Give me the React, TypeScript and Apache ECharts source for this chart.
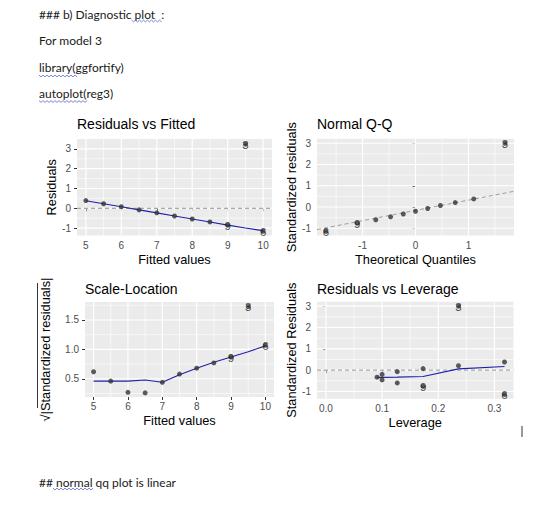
import React, { useEffect, useRef } from "react";
import * as echarts from "echarts";

// ---------------- data ----------------
const obsLabels = ["8", "11", "7", "10", "2", "4", "1", "5", "9", "3", "6"];
const labelledObs = ["3", "9", "6"];
const fittedValues = [5, 5.5, 6, 6.5, 7, 7.5, 8, 8.5, 9, 9.5, 10];
const residuals = [0.39, 0.23, 0.08, -0.08, -0.23, -0.39, -0.54, -0.69, -0.85, 3.24, -1.16];
const stdResiduals = [0.38, 0.21, 0.07, -0.07, -0.2, -0.33, -0.46, -0.6, -0.76, 3.0, -1.14];
const sqrtAbsStdResiduals = [0.62, 0.46, 0.27, 0.26, 0.44, 0.58, 0.68, 0.77, 0.87, 1.73, 1.07];
const leverage = [0.318, 0.236, 0.173, 0.127, 0.1, 0.091, 0.1, 0.127, 0.173, 0.236, 0.318];
const theoreticalQuantiles = [-1.69, -1.1, -0.75, -0.47, -0.23, 0, 0.23, 0.47, 0.75, 1.1, 1.69];

const fittedSmooth = [0.38, 0.23, 0.08, -0.08, -0.23, -0.39, -0.54, -0.69, -0.85, -1.0, -1.13];
const scaleSmooth = [0.46, 0.46, 0.46, 0.48, 0.44, 0.57, 0.68, 0.78, 0.87, 0.96, 1.06];
const leverageSmoothX = [0.091, 0.1, 0.127, 0.173, 0.236, 0.318];
const leverageSmoothY = [-0.34, -0.34, -0.33, -0.3, 0.06, 0.17];
const qqLineX = [-1.86, 1.86];
const qqLineY = [-1.06, 0.74];

const fittedTicks = [5, 6, 7, 8, 9, 10];
const fittedMinor = [5.5, 6.5, 7.5, 8.5, 9.5];
const residTicks = [-1, 0, 1, 2, 3];
const residMinor = [-0.5, 0.5, 1.5, 2.5];
const qqTicks = [-1, 0, 1];
const qqMinor = [-1.5, -0.5, 0.5, 1.5];
const scaleTicks = [0.5, 1.0, 1.5];
const scaleMinor = [0.25, 0.75, 1.25, 1.75];
const levTicks = [0, 0.1, 0.2, 0.3];
const levMinor = [0.05, 0.15, 0.25];

const panelTitles = ["Residuals vs Fitted", "Normal Q-Q", "Scale-Location", "Residuals vs Leverage"];
const xNames = ["Fitted values", "Theoretical Quantiles", "Fitted values", "Leverage"];
const yNames = ["Residuals", "Standardized residuals", "\u221A|Standardized residuals|", "Standardized Residuals"];

const docLines = ["### b) Diagnostic plot  :", "For model 3", "library(ggfortify)", "autoplot(reg3)"];
const docFooter = "## normal qq plot is linear";

// ---------------- layout / style ----------------
const FONT = "'Liberation Sans', Arial, Helvetica, sans-serif";
const DOC_FONT = "Lato, 'Open Sans', sans-serif";

const layout = [
  { left: 77, top: 139, width: 195, height: 96.6, xMin: 4.75, xMax: 10.25, yMin: -1.38, yMax: 3.5, yGap: 17, titleTop: 117 },
  { left: 317, top: 138.8, width: 197, height: 96.7, xMin: -1.86, xMax: 1.86, yMin: -1.34, yMax: 3.21, yGap: 17, titleTop: 117 },
  { left: 85, top: 302, width: 189, height: 95, xMin: 4.75, xMax: 10.25, yMin: 0.19, yMax: 1.806, yGap: 33, titleTop: 281.5 },
  { left: 317, top: 301.7, width: 196.5, height: 97, xMin: -0.0159, xMax: 0.334, yMin: -1.34, yMax: 3.21, yGap: 17, titleTop: 281.5 },
];

const xTickSets = [fittedTicks, qqTicks, fittedTicks, levTicks];
const xMinorSets = [fittedMinor, qqMinor, fittedMinor, levMinor];
const yTickSets = [residTicks, residTicks, scaleTicks, residTicks];
const yMinorSets = [residMinor, residMinor, scaleMinor, residMinor];
const xFormat = [
  (v: number) => String(v),
  (v: number) => String(v),
  (v: number) => String(v),
  (v: number) => v.toFixed(1),
];
const yFormat = [
  (v: number) => String(v),
  (v: number) => String(v),
  (v: number) => v.toFixed(1),
  (v: number) => String(v),
];

function squiggle(x1: number, x2: number, y: number) {
  const pts: number[][] = [];
  let up = true;
  for (let x = x1; x <= x2; x += 2) {
    pts.push([x, y + (up ? -0.9 : 0.9)]);
    up = !up;
  }
  return pts;
}

function buildOption() {
  const grids = layout.map((l) => ({
    left: l.left,
    top: l.top,
    width: l.width,
    height: l.height,
    show: true,
    backgroundColor: "#EBEBEB",
    borderWidth: 0,
    containLabel: false,
  }));

  const xAxes = layout.map((l, i) => ({
    type: "value",
    gridIndex: i,
    min: l.xMin,
    max: l.xMax,
    name: xNames[i],
    nameLocation: "middle",
    nameGap: 17,
    nameTextStyle: { fontFamily: FONT, fontSize: 12.8, color: "#000" },
    axisLine: { show: false },
    axisTick: { show: true, length: 3, lineStyle: { color: "#333333", width: 1 }, customValues: xTickSets[i] },
    axisLabel: {
      customValues: xTickSets[i],
      formatter: xFormat[i],
      color: "#4D4D4D",
      fontSize: 10,
      fontFamily: FONT,
      margin: 4.5,
    },
    splitLine: { show: false },
  }));

  const yAxes = layout.map((l, i) => ({
    type: "value",
    gridIndex: i,
    min: l.yMin,
    max: l.yMax,
    name: yNames[i],
    nameLocation: "middle",
    nameRotate: 90,
    nameGap: l.yGap,
    nameTextStyle: { fontFamily: FONT, fontSize: 12.8, color: "#000" },
    axisLine: { show: false },
    axisTick: { show: true, length: 3, lineStyle: { color: "#333333", width: 1 }, customValues: yTickSets[i] },
    axisLabel: {
      customValues: yTickSets[i],
      formatter: yFormat[i],
      color: "#4D4D4D",
      fontSize: 10,
      fontFamily: FONT,
      margin: 6,
    },
    splitLine: { show: false },
  }));

  const series: any[] = [];
  const seg = (i: number, data: number[][], style: any, z: number) => ({
    type: "line",
    xAxisIndex: i,
    yAxisIndex: i,
    data,
    symbol: "none",
    showSymbol: false,
    silent: true,
    z,
    lineStyle: style,
  });

  // background grid lines (ggplot style), placed through the axes' scales
  layout.forEach((l, i) => {
    const minorStyle = { color: "#FFFFFF", width: 0.6, type: "solid" };
    const majorStyle = { color: "#FFFFFF", width: 1.15, type: "solid" };
    xMinorSets[i].forEach((v) => series.push(seg(i, [[v, l.yMin], [v, l.yMax]], minorStyle, 1)));
    yMinorSets[i].forEach((v) => series.push(seg(i, [[l.xMin, v], [l.xMax, v]], minorStyle, 1)));
    xTickSets[i].forEach((v) => series.push(seg(i, [[v, l.yMin], [v, l.yMax]], majorStyle, 1)));
    yTickSets[i].forEach((v) => series.push(seg(i, [[l.xMin, v], [l.xMax, v]], majorStyle, 1)));
  });

  // dashed zero reference lines (panels 1 and 4)
  [0, 3].forEach((i) => {
    const l = layout[i];
    series.push(seg(i, [[l.xMin, 0], [l.xMax, 0]], { color: "#7A7A7A", width: 0.8, type: [4, 3] }, 2));
  });

  // Q-Q reference line
  series.push(seg(1, qqLineX.map((x, k) => [x, qqLineY[k]]), { color: "#8A8A8A", width: 0.8, type: [4, 3] }, 2));

  // smoothers
  const smoothStyle = { color: "#2020A8", width: 1.1 };
  series.push(seg(0, fittedValues.map((x, k) => [x, fittedSmooth[k]]), smoothStyle, 3));
  series.push(seg(2, fittedValues.map((x, k) => [x, scaleSmooth[k]]), smoothStyle, 3));
  series.push(seg(3, leverageSmoothX.map((x, k) => [x, leverageSmoothY[k]]), smoothStyle, 3));

  // points and labels
  const order = stdResiduals.map((_, k) => k).sort((a, b) => stdResiduals[a] - stdResiduals[b]);
  const pointSets = [
    fittedValues.map((x, k) => ({ name: obsLabels[k], value: [x, residuals[k]] })),
    order.map((k, j) => ({ name: obsLabels[k], value: [theoreticalQuantiles[j], stdResiduals[k]] })),
    fittedValues.map((x, k) => ({ name: obsLabels[k], value: [x, sqrtAbsStdResiduals[k]] })),
    leverage.map((x, k) => ({ name: obsLabels[k], value: [x, stdResiduals[k]] })),
  ];
  pointSets.forEach((data, i) => {
    series.push({
      type: "scatter",
      xAxisIndex: i,
      yAxisIndex: i,
      symbol: "circle",
      symbolSize: 5,
      itemStyle: { color: "#333333" },
      label: { show: false },
      z: 4,
      silent: true,
      data,
    });
    series.push({
      type: "scatter",
      xAxisIndex: i,
      yAxisIndex: i,
      symbol: "circle",
      symbolSize: 0,
      itemStyle: { color: "rgba(0,0,0,0)" },
      z: 5,
      silent: true,
      label: {
        show: true,
        position: "inside",
        formatter: "{b}",
        fontFamily: FONT,
        fontSize: 11.5,
        color: "#1E1E1E",
        offset: [0, 1],
      },
      data: data.filter((d) => labelledObs.includes(d.name)),
    });
  });

  const titles = layout.map((l, i) => ({
    text: panelTitles[i],
    left: l.left,
    top: l.titleTop,
    padding: 0,
    textStyle: { fontFamily: FONT, fontSize: 14, fontWeight: "normal", color: "#000" },
  }));

  const docY = [14.2, 40.8, 67.5, 93.6];
  const graphic: any[] = [
    ...docLines.map((t, k) => ({
      type: "text",
      x: 39,
      y: docY[k],
      style: { text: t, fontFamily: DOC_FONT, fontSize: 12, fill: "#1A1A1A", align: "left", verticalAlign: "middle" },
    })),
    {
      type: "text",
      x: 39,
      y: 482,
      style: { text: docFooter, fontFamily: DOC_FONT, fontSize: 12, fill: "#1A1A1A", align: "left", verticalAlign: "middle" },
    },
    ...[
      [131.5, 161.5, 21],
      [39, 77, 76],
      [39, 88, 101.5],
      [53, 93, 489],
    ].map(([a, b, y]) => ({
      type: "polyline",
      shape: { points: squiggle(a, b, y) },
      style: { stroke: "#5567CF", lineWidth: 0.8, fill: null },
    })),
    { type: "line", shape: { x1: 522, y1: 426, x2: 522, y2: 437 }, style: { stroke: "#333", lineWidth: 1 } },
    { type: "line", shape: { x1: 37.5, y1: 283, x2: 37.5, y2: 408 }, style: { stroke: "#000", lineWidth: 0.8 } },
  ];

  return {
    animation: false,
    backgroundColor: "#FFFFFF",
    title: titles,
    grid: grids,
    xAxis: xAxes,
    yAxis: yAxes,
    series,
    graphic,
  };
}

export default function App() {
  const ref = useRef<HTMLDivElement>(null);
  useEffect(() => {
    if (!ref.current) return;
    const chart = echarts.init(ref.current, null, { renderer: "svg" });
    chart.setOption(buildOption() as any);
    return () => chart.dispose();
  }, []);
  return (
    <div
      ref={ref}
      style={{ position: "absolute", left: 0, top: 0, width: 560, height: 506, background: "#fff" }}
    />
  );
}
